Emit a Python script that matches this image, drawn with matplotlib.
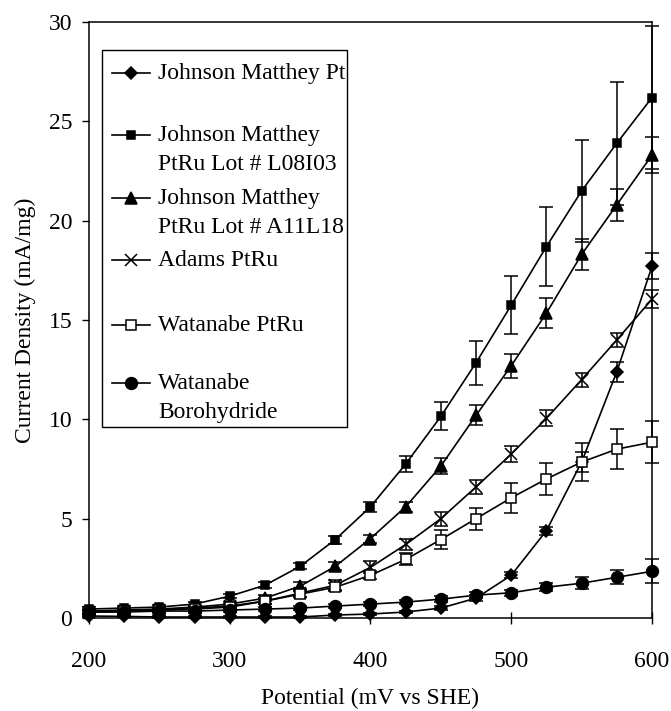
import matplotlib
matplotlib.use("Agg")
import matplotlib.pyplot as plt
from matplotlib.lines import Line2D
from matplotlib.patches import Rectangle

plt.rcParams["font.family"] = ["Liberation Serif", "DejaVu Serif"]

# -----------------------------
# Data
# -----------------------------
potential = [200, 225, 250, 275, 300, 325, 350, 375, 400,
             425, 450, 475, 500, 525, 550, 575, 600]

jm_pt = [0.10, 0.08, 0.05, 0.05, 0.05, 0.05, 0.05, 0.15, 0.20,
         0.30, 0.50, 1.00, 2.15, 4.40, 7.85, 12.40, 17.70]
jm_pt_err = [0.05, 0.05, 0.05, 0.05, 0.05, 0.05, 0.05, 0.05, 0.05,
             0.05, 0.10, 0.15, 0.15, 0.20, 0.50, 0.50, 0.65]

jm_l08 = [0.45, 0.50, 0.55, 0.70, 1.10, 1.65, 2.60, 3.95, 5.60,
          7.75, 10.15, 12.85, 15.75, 18.70, 21.50, 23.90, 26.20]
jm_l08_err = [0.10, 0.10, 0.10, 0.10, 0.10, 0.15, 0.15, 0.20, 0.25,
              0.40, 0.70, 1.10, 1.45, 2.00, 2.55, 3.10, 3.60]

jm_a11 = [0.35, 0.40, 0.45, 0.55, 0.70, 1.00, 1.60, 2.60, 4.00,
          5.60, 7.65, 10.20, 12.70, 15.35, 18.30, 20.80, 23.30]
jm_a11_err = [0.10, 0.10, 0.10, 0.10, 0.10, 0.15, 0.20, 0.20, 0.20,
              0.25, 0.40, 0.50, 0.60, 0.75, 0.80, 0.80, 0.90]

adams = [0.30, 0.35, 0.40, 0.50, 0.60, 0.85, 1.25, 1.65, 2.55,
         3.70, 5.00, 6.60, 8.25, 10.05, 12.00, 14.00, 16.05]
adams_err = [0.10, 0.10, 0.10, 0.10, 0.10, 0.15, 0.20, 0.25, 0.30,
             0.30, 0.35, 0.35, 0.40, 0.40, 0.35, 0.35, 0.45]

wat_ptru = [0.30, 0.35, 0.40, 0.45, 0.55, 0.85, 1.20, 1.55, 2.15,
            2.95, 3.95, 5.00, 6.05, 7.00, 7.85, 8.50, 8.85]
wat_ptru_err = [0.10, 0.10, 0.10, 0.10, 0.10, 0.15, 0.15, 0.20, 0.20,
                0.30, 0.50, 0.55, 0.75, 0.80, 0.95, 1.00, 1.05]

wat_boro = [0.30, 0.30, 0.35, 0.35, 0.40, 0.45, 0.50, 0.60, 0.70,
            0.80, 0.95, 1.15, 1.27, 1.55, 1.75, 2.05, 2.35]
wat_boro_err = [0.10, 0.10, 0.10, 0.10, 0.10, 0.10, 0.10, 0.10, 0.10,
                0.10, 0.15, 0.15, 0.15, 0.20, 0.30, 0.35, 0.60]

labels = [["Johnson Matthey Pt"],
          ["Johnson Matthey", "PtRu Lot # L08I03"],
          ["Johnson Matthey", "PtRu Lot # A11L18"],
          ["Adams PtRu"],
          ["Watanabe PtRu"],
          ["Watanabe", "Borohydride"]]

# marker styles: (marker, size, facecolor)
styles = [("D", 6.0, "black"),
          ("s", 6.0, "black"),
          ("^", 8.0, "black"),
          ("x", 8.0, "black"),
          ("s", 7.0, "white"),
          ("o", 8.5, "black")]

series = [(jm_pt, jm_pt_err), (jm_l08, jm_l08_err), (jm_a11, jm_a11_err),
          (adams, adams_err), (wat_ptru, wat_ptru_err), (wat_boro, wat_boro_err)]

# -----------------------------
# Figure
# -----------------------------
fig = plt.figure(figsize=(6.71, 7.11), dpi=100)
ax = fig.add_axes([0.1326, 0.1308, 0.8391, 0.8382])

for (vals, errs), (mk, ms, fc) in zip(series, styles):
    ax.errorbar(potential, vals, yerr=errs, color="black", lw=1.2,
                marker=mk, ms=ms, mfc=fc, mec="black", mew=1.1,
                ecolor="black", elinewidth=1.1, capsize=5, capthick=1.1,
                clip_on=False, zorder=3)

ax.set_xlim(200, 600)
ax.set_ylim(0, 30)
ax.set_xticks([200, 300, 400, 500, 600])
ax.set_yticks([0, 5, 10, 15, 20, 25, 30])
ax.tick_params(axis="x", direction="inout", length=9, width=1.0,
               labelsize=17, pad=19)
ax.tick_params(axis="y", direction="out", length=5, width=1.0,
               labelsize=17, pad=7)
for s in ax.spines.values():
    s.set_linewidth(1.1)
    s.set_color("black")

ax.set_xlabel("Potential (mV vs SHE)", fontsize=17, labelpad=12)
ax.set_ylabel("Current Density (mA/mg)", fontsize=17, labelpad=9)

# -----------------------------
# Legend (Excel style, marker on first text line)
# -----------------------------
ax.add_patch(Rectangle((0.023, 0.32), 0.435, 0.633, transform=ax.transAxes,
                       facecolor="white", edgecolor="black", lw=1.0, zorder=5))

def ypx(p):
    return (618 - p) / 596.0

entry_px = [73, 135, 198, 260, 325, 383]
for (mk, ms, fc), lines, p in zip(styles, labels, entry_px):
    y = ypx(p)
    ax.add_line(Line2D([0.041, 0.108], [y, y], transform=ax.transAxes,
                       color="black", lw=1.2, zorder=6))
    ax.add_line(Line2D([0.0746], [y], transform=ax.transAxes, marker=mk,
                       ms=ms, mfc=fc, mec="black", mew=1.1, ls="none",
                       zorder=6))
    for i, txt in enumerate(lines):
        ax.text(0.1226, ypx(p + 29 * i), txt, transform=ax.transAxes,
                fontsize=17, va="center", ha="left", zorder=6)

fig.savefig("out.png", dpi=100)
